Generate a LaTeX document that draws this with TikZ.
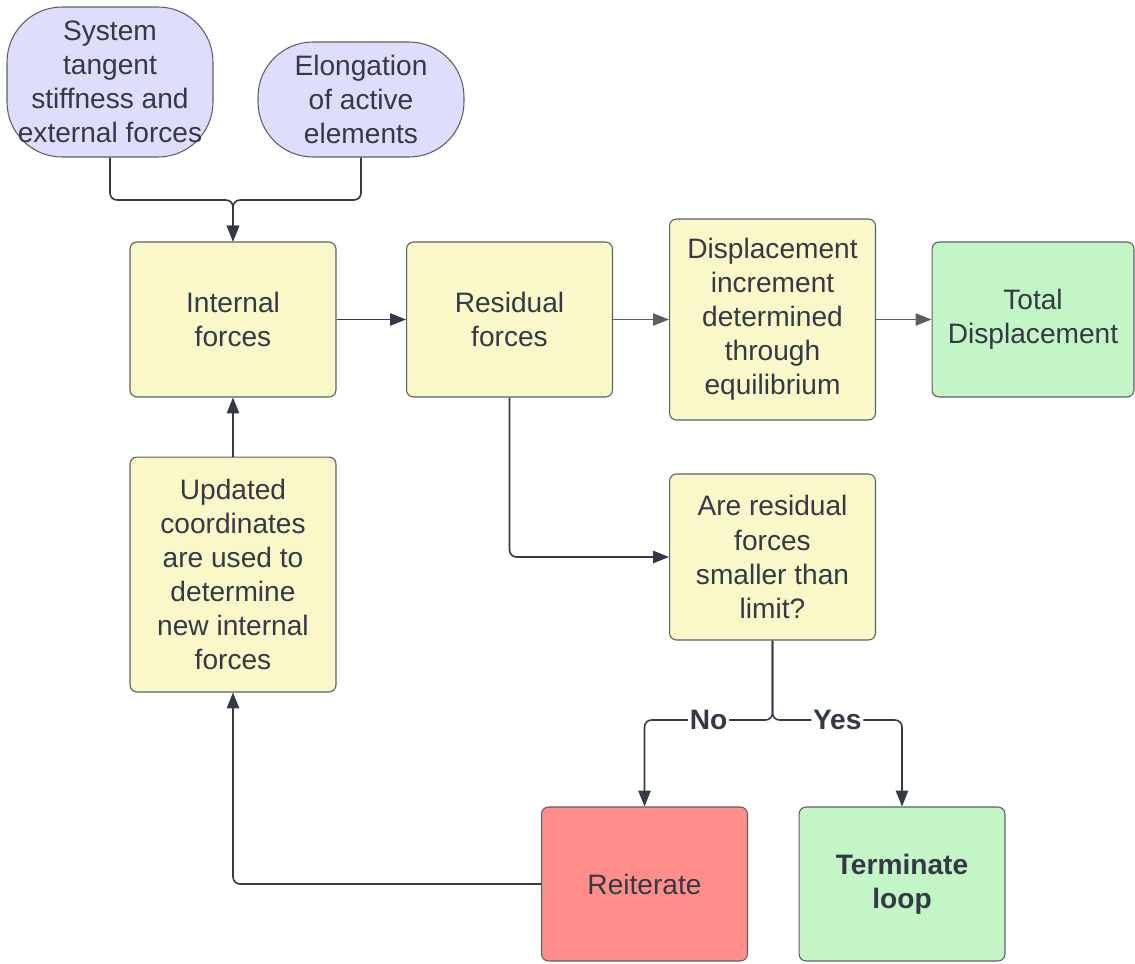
\documentclass[tikz,border=0pt]{standalone}
\usepackage{fontspec}
\setmainfont{Liberation Sans}
\usetikzlibrary{arrows.meta}
\definecolor{lilac}{HTML}{DEDEFC}
\definecolor{lemon}{HTML}{FAF8C8}
\definecolor{mint}{HTML}{C3F5C6}
\definecolor{salmon}{HTML}{FF8E8A}
\definecolor{edge}{HTML}{5A5F66}
\definecolor{ink}{HTML}{333A45}
\begin{document}
\begin{tikzpicture}[x=0.02cm,y=-0.02cm]
\tikzstyle{box}=[draw=edge,line width=0.6pt,rounded corners=4pt,minimum width=4.12cm,align=center,text=ink,font=\fontsize{16}{19.4}\selectfont];
\tikzstyle{start}=[box,fill=lilac,rounded corners=1.1cm];
\tikzstyle{work}=[box,fill=lemon];
\tikzstyle{good}=[box,fill=mint];
\tikzstyle{bad}=[box,fill=salmon];
\tikzstyle{flow}=[-{Triangle[length=9pt,width=7pt]},draw=ink,line width=0.9pt,rounded corners=4pt];
\tikzstyle{light}=[flow,draw=edge,line width=0.5pt];
\tikzstyle{answer}=[fill=white,font=\fontsize{16}{19}\selectfont\bfseries,text=ink,inner sep=1pt];

\useasboundingbox (0,0) rectangle (1135,963);

\node [start,minimum height=3cm] (v1) at (110,82) {System\\tangent\\stiffness and\\external forces};
\node [start,minimum height=2.3cm] (v2) at (361,99.5) {Elongation\\of active\\elements};

\node [work,minimum height=3.1cm] (v3) at (233,319.5) {Internal\\forces};
\node [work,minimum height=3.1cm] (v4) at (509.5,319.5) {Residual\\forces};
\node [work,minimum height=4.02cm] (v5) at (772.5,319.5) {Displacement\\increment\\determined\\through\\equilibrium};
\node [good,minimum height=3.1cm,minimum width=4.04cm] (v6) at (1033,319.5) {Total\\Displacement};

\node [work,minimum height=4.7cm] (v7) at (233,574.5) {Updated\\coordinates\\are used to\\determine\\new internal\\forces};
\node [work,minimum height=3.32cm] (v8) at (772.5,557) {Are residual\\forces\\smaller than\\limit?};

\node [bad,minimum height=3.08cm] (v9) at (644.5,884) {Reiterate};
\node [good,minimum height=3.08cm,font=\fontsize{16}{19.4}\selectfont\bfseries] (v10) at (902,884) {Terminate\\loop};

\coordinate (j1) at (233,200);
\coordinate (j2) at (772.5,720);

\draw [flow] (v1.south) |- (j1) -- (v3.north);
\draw [flow] (v2.south) |- (j1) -- (v3.north);
\draw [flow] (v3) -- (v4);
\draw [light] (v4) -- (v5);
\draw [light] (v5) -- (v6);
\draw [flow] (v4.south) |- (v8.west);
\draw [flow] (v8.south) -- (j2) -| node [answer,pos=0.25] {No} (v9.north);
\draw [flow] (v8.south) -- (j2) -| node [answer,pos=0.25] {Yes} (v10.north);
\draw [flow] (v9.west) -| (v7.south);
\draw [flow] (v7) -- (v3);
\end{tikzpicture}
\end{document}
